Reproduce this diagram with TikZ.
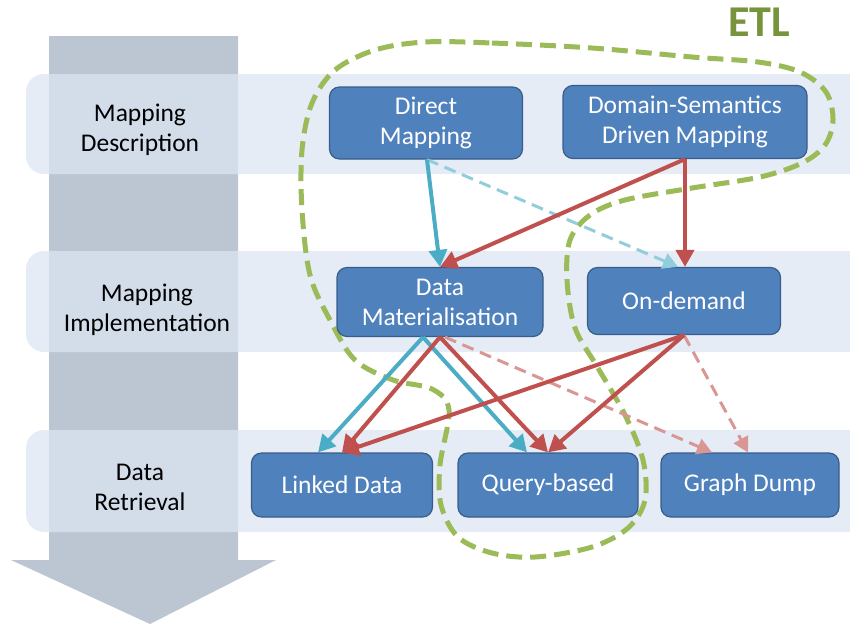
\documentclass[tikz,border=0pt]{standalone}
\usepackage{fontspec}
\setmainfont{Carlito}
\usetikzlibrary{arrows.meta}
\definecolor{boxfill}{HTML}{4F81BD}
\definecolor{boxline}{HTML}{385D8A}
\definecolor{bandfill}{HTML}{DCE6F2}
\definecolor{garrow}{HTML}{BCC6D3}
\definecolor{teal}{HTML}{4BACC6}
\definecolor{lteal}{HTML}{92CDDC}
\definecolor{redc}{HTML}{C0504D}
\definecolor{pinkc}{HTML}{D99694}
\definecolor{etlgreen}{HTML}{77933C}
\definecolor{curvegreen}{HTML}{9BBB59}
\tikzset{
  box/.style={draw=boxline, line width=1.2pt, fill=boxfill, rounded corners=10pt,
    text=white, align=center, font=\fontsize{25.5}{30}\selectfont, inner sep=0pt},
  lbl/.style={align=center, font=\fontsize{25.5}{30}\selectfont, text=black},
  band/.style={fill=bandfill, fill opacity=0.75, rounded corners=18pt},
  tip/.style={-{Triangle[length=17pt,width=18pt]}},
  tipd/.style={-{Triangle[length=15pt,width=16pt]}},
  tealarr/.style={tip, draw=teal, line width=4pt},
  redarr/.style={tip, draw=redc, line width=4pt},
  tealdash/.style={tipd, draw=lteal, line width=3pt, dash pattern=on 12pt off 7pt},
  pinkdash/.style={tipd, draw=pinkc, line width=3pt, dash pattern=on 12pt off 7pt},
}
\begin{document}
\begin{tikzpicture}[x=1pt,y=-1pt]
\useasboundingbox (0,0) rectangle (850,625);
% gray process arrow
\fill[garrow] (49,36) -- (238,36) -- (238,560) -- (276,560) -- (150,624) -- (11,560) -- (49,560) -- cycle;
% bands
\fill[band] (26,74) rectangle (880,174);
\fill[band] (26,251) rectangle (880,352);
\fill[band] (26,430) rectangle (880,532);
% left labels
\node[lbl] (l1) at (140,130) {Mapping\\Description};
\node[lbl] (l2) at (147,310) {Mapping\\Implementation};
\node[lbl] (l3) at (140,487) {Data\\Retrieval};
% ETL curve
\draw[curvegreen, line width=5pt, dash pattern=on 16pt off 8pt]
  plot[smooth cycle, tension=0.55] coordinates {
  (425,42) (492,43) (592,48) (692,57) (758,62) (800,72) (826,92) (833,120)
  (825,145) (802,163) (760,177) (692,188) (625,200) (590,215) (570,240)
  (567,280) (575,328) (598,368) (625,415) (643,460) (645,500) (628,528)
  (592,547) (535,557) (492,553) (458,537) (441,505) (440,465) (449,410)
  (432,389) (393,380) (355,360) (330,320) (310,275) (302,210) (302,150)
  (312,103) (335,70) (375,50)};
\node[font=\fontsize{44}{44}\selectfont\bfseries, text=etlgreen] (etl) at (759,22) {ETL};
% boxes
\node[box, minimum width=193pt, minimum height=72pt] (dm) at (426,123) {Direct\\Mapping};
\node[box, minimum width=244pt, minimum height=73pt] (dsdm) at (685,122) {Domain-Semantics\\Driven Mapping};
\node[box, minimum width=206pt, minimum height=69pt] (dmat) at (440,302) {Data\\Materialisation};
\node[box, minimum width=193pt, minimum height=67pt] (od) at (684,301) {On-demand};
\node[box, minimum width=181pt, minimum height=64pt] (ld) at (342,485) {Linked Data};
\node[box, minimum width=180pt, minimum height=64pt] (qb) at (548,485) {Query-based};
\node[box, minimum width=178pt, minimum height=64pt] (gd) at (750,485) {Graph Dump};
% connectors
\draw[tealdash] ([xshift=1pt]dm.south) -- ([xshift=-6pt]od.north);
\draw[tealarr] ([xshift=1pt]dm.south) -- (dmat.north);
\draw[redarr] (dsdm.south) -- (dmat.north);
\draw[redarr] (dsdm.south) -- ([xshift=1pt]od.north);
\draw[pinkdash] ([xshift=5pt]dmat.south) -- ([xshift=-38pt]gd.north);
\draw[pinkdash] (od.south) -- ([xshift=-2pt]gd.north);
\draw[tealarr] ([xshift=-17pt]dmat.south) -- ([xshift=-24pt]ld.north);
\draw[tealarr] ([xshift=-17pt]dmat.south) -- ([xshift=-21pt]qb.north);
\draw[redarr] (dmat.south) -- (ld.north);
\draw[redarr] (dmat.south) -- (qb.north);
\draw[redarr] (od.south) -- (ld.north);
\draw[redarr] (od.south) -- (qb.north);
\end{tikzpicture}
\end{document}
